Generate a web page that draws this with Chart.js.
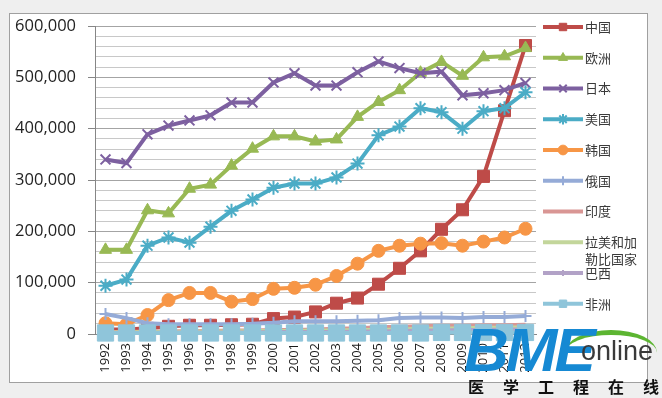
<!DOCTYPE html>
<html>
<head>
<meta charset="utf-8">
<script src="https://cdn.jsdelivr.net/npm/chart.js@4.4.0/dist/chart.umd.min.js"></script>
<style>
  html, body { margin: 0; padding: 0; background: #efefef; }
  #frame { position: absolute; left: 9px; top: 13px; width: 637px; height: 368px; background: #fff; border: 1px solid #a0a0a0; }
  #c { position: absolute; left: 0; top: 0; }
  .wm { position: absolute; white-space: nowrap; }
  #bme { left: 464px; top: 314px; font: italic bold 62px "Liberation Sans", Arial, sans-serif; letter-spacing: -3px; color: #1689d3; }
  #arc { left: 565px; top: 330px; width: 92px; height: 40px; border-top: 5px solid #5cb531; border-radius: 50% 50% 0 0; }
  #online { left: 581px; top: 336px; font: 27px "Liberation Sans", Arial, sans-serif; color: #3a3a3a; }
  #cn { left: 468px; top: 374px; font: bold 16px "Noto Sans CJK SC", sans-serif; letter-spacing: 19px; color: #111; }
</style>
</head>
<body>
<div id="frame"></div>
<canvas id="c" width="662" height="398"></canvas>
<div class="wm" id="arc"></div>
<div class="wm" id="bme">BME</div>
<div class="wm" id="online">online</div>
<div class="wm" id="cn">医学工程在线</div>
<script>
// DATA
var years = ['1992','1993','1994','1995','1996','1997','1998','1999','2000','2001','2002',
             '2003','2004','2005','2006','2007','2008','2009','2010','2011','2012'];

var china  = [9000, 9000, 11000, 15000, 17000, 17000, 18000, 19000, 30000, 33000, 43000,
              60000, 70000, 97000, 128000, 162000, 204000, 242000, 307000, 435000, 562000];
var europe = [164000, 164000, 241000, 235000, 283000, 291000, 328000, 361000, 385000, 385000, 375000,
              379000, 423000, 452000, 475000, 509000, 530000, 503000, 539000, 541000, 557000];
var japan  = [340000, 333000, 389000, 406000, 416000, 426000, 451000, 451000, 490000, 508000, 484000,
              484000, 510000, 531000, 518000, 508000, 511000, 465000, 469000, 475000, 489000];
var usa    = [94000, 106000, 172000, 188000, 178000, 209000, 240000, 262000, 285000, 293000, 293000,
              305000, 332000, 387000, 404000, 440000, 432000, 400000, 434000, 440000, 471000];
var korea  = [21000, 19000, 37000, 66000, 80000, 80000, 63000, 68000, 88000, 90000, 96000,
              113000, 137000, 162000, 172000, 176000, 177000, 172000, 180000, 188000, 205000];
var russia = [39000, 31000, 21000, 19000, 19000, 19000, 19000, 20000, 22000, 25000, 25000,
              25000, 26000, 27000, 31000, 32000, 32000, 31000, 33000, 33000, 35000];
var india  = [4000, 4000, 5000, 5000, 6000, 6000, 7000, 7000, 8000, 8000, 9000,
              10000, 11000, 13000, 14000, 15000, 16000, 16000, 17000, 17000, 18000];
var latam  = [3000, 3000, 4000, 4000, 5000, 5000, 5000, 6000, 6000, 6000, 7000,
              7000, 8000, 8000, 9000, 10000, 10000, 11000, 12000, 12000, 13000];
var brazil = [2000, 2000, 2000, 3000, 3000, 3000, 3000, 3000, 4000, 4000, 4000,
              4000, 5000, 5000, 6000, 7000, 7000, 8000, 8000, 9000, 9000];
var africa = [2000, 2000, 2000, 2000, 2000, 2000, 2000, 2000, 2000, 2000, 2000,
              2000, 2000, 2000, 2000, 2000, 3000, 3000, 3000, 3000, 3000];

var seriesNames = ['中国', '欧洲', '日本', '美国', '韩国', '俄国', '印度', ['拉美和加', '勒比国家'], '巴西', '非洲'];

// styles
function series(i, data, color, style, radius, pbw) {
  return {
    label: seriesNames[i],
    data: data,
    borderColor: color,
    backgroundColor: color,
    pointBorderColor: color,
    pointBackgroundColor: color,
    borderWidth: 4,
    pointStyle: style,
    pointRadius: style ? radius : 0,
    pointBorderWidth: pbw,
    tension: 0,
    clip: false,
    order: -i   // later series on top, like the original
  };
}

var datasets = [
  series(0, china,  '#be4b48', 'rect',     8.5, 1),
  series(1, europe, '#98b954', 'triangle', 7,   1),
  series(2, japan,  '#7d60a0', 'crossRot', 7,   2),
  series(3, usa,    '#4bacc6', 'star',     7,   2),
  series(4, korea,  '#f79646', 'circle',   6.5, 1),
  series(5, russia, '#95abd7', 'cross',    6,   2),
  series(6, india,  '#d99694', false,      0,   0),
  series(7, latam,  '#c3d69b', false,      0,   0),
  series(8, brazil, '#b2a2c7', 'cross',    4,   2),
  series(9, africa, '#8fc5da', 'rect',     11.5, 1)
];

// legend on the right, Excel style: line with marker in the middle
var sideLegend = {
  id: 'sideLegend',
  afterDraw: function(chart) {
    var ctx = chart.ctx;
    chart.data.datasets.forEach(function(ds, i) {
      var y = 27 + i * 30.75;
      ctx.save();
      ctx.strokeStyle = ds.borderColor;
      ctx.lineWidth = 4;
      ctx.beginPath();
      ctx.moveTo(543, y);
      ctx.lineTo(583, y);
      ctx.stroke();
      if (ds.pointStyle) {
        ctx.fillStyle = ds.borderColor;
        ctx.lineWidth = ds.pointBorderWidth;
        Chart.helpers.drawPoint(ctx, {
          pointStyle: ds.pointStyle,
          radius: Math.min(ds.pointRadius, 7) * 0.75,
          rotation: 0,
          borderWidth: ds.pointBorderWidth
        }, 563, y);
      }
      ctx.fillStyle = '#3a3a3a';
      ctx.font = '13px "Noto Sans CJK SC", sans-serif';
      ctx.textBaseline = 'middle';
      ctx.textAlign = 'left';
      var lines = Array.isArray(ds.label) ? ds.label : [ds.label];
      lines.forEach(function(t, k) {
        ctx.fillText(t, 585, y + k * 16.5);
      });
      ctx.restore();
    });
  }
};

var ctx = document.getElementById('c');
var chart = new Chart(ctx, {
  type: 'line',
  data: { labels: years, datasets: datasets },
  options: {
    responsive: false,
    animation: false,
    devicePixelRatio: 1,
    layout: { padding: { left: 0, top: 26, right: 126, bottom: 0 } },
    plugins: {
      legend: { display: false },
      tooltip: { enabled: false }
    },
    scales: {
      x: {
        offset: true,
        grid: { display: false, drawTicks: false },
        border: { display: true, color: '#868686', width: 1 },
        ticks: {
          autoSkip: false,
          minRotation: 90,
          maxRotation: 90,
          padding: 9,
          color: '#1a1a1a',
          font: { family: '"Open Sans", sans-serif', size: 13 }
        },
        afterFit: function(scale) { scale.height = 64; }
      },
      y: {
        min: 0,
        max: 600000,
        grid: {
          color: function(c) { return c.tick && c.tick.value % 100000 === 0 ? '#a4a4a4' : '#c8c8c8'; },
          tickColor: function(c) { return c.tick && c.tick.value % 100000 === 0 ? '#868686' : 'rgba(0,0,0,0)'; },
          tickLength: 7,
          lineWidth: 1
        },
        border: { display: true, color: '#868686', width: 1 },
        ticks: {
          stepSize: 20000,
          autoSkip: false,
          padding: 12,
          color: '#222',
          font: { family: '"Open Sans", sans-serif', size: 16.5 },
          callback: function(v) { return v % 100000 === 0 ? v.toLocaleString('en-US') : ''; }
        },
        afterFit: function(scale) { scale.width = 95; }
      }
    }
  },
  plugins: [sideLegend]
});
</script>
</body>
</html>
